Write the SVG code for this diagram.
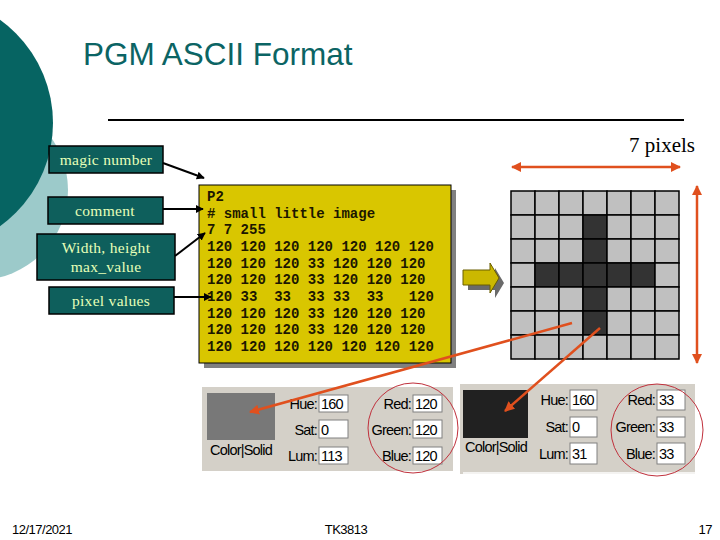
<svg xmlns="http://www.w3.org/2000/svg" width="720" height="540" viewBox="0 0 720 540">
<defs>
<style>
.lbl rect{fill:#0e5f5c;stroke:#000;stroke-width:1.5}
.lbl text{font-family:"Liberation Serif",serif;font-size:15.5px;letter-spacing:0.3px;fill:#e6ffb8;text-anchor:middle}
.code{font-family:"Liberation Mono",monospace;font-weight:bold;font-size:14px;fill:#1c1700}
.ui{font-family:"Liberation Sans",Arial,sans-serif;font-size:14.5px;fill:#000;letter-spacing:-0.8px}
.uir{text-anchor:end}
.box{fill:#fff;stroke:#808080;stroke-width:1}
.lt{fill:#c0c0c0;stroke:#000;stroke-width:1.5}
.dk{fill:#333;stroke:#000;stroke-width:1.5}
.foot{font-family:"Liberation Sans",Arial,sans-serif;font-size:13px;fill:#000;letter-spacing:-0.5px}
</style>
<marker id="ah" viewBox="0 0 10 10" refX="9" refY="5" markerWidth="4" markerHeight="4" orient="auto"><path d="M0,0 L10,5 L0,10 z" fill="#000"/></marker>
<marker id="rh" viewBox="0 0 10 10" refX="9" refY="5" markerWidth="4" markerHeight="4" orient="auto-start-reverse"><path d="M0,0 L10,5 L0,10 z" fill="#e0501e"/></marker>
</defs>
<rect width="720" height="540" fill="#fff"/>
<circle cx="-22" cy="190" r="90" fill="#9ccaca"/>
<circle cx="-74" cy="123" r="127" fill="#066462"/>
<text x="83" y="65" font-family="Liberation Sans,Arial,sans-serif" font-size="31.5" fill="#0b6464">PGM ASCII Format</text>
<line x1="108" y1="120" x2="684" y2="120" stroke="#000" stroke-width="2"/>
<text x="695" y="152" font-family="Liberation Serif,serif" font-size="21" text-anchor="end" fill="#000">7 pixels</text>
<g id="lbl-magic" class="lbl"><rect x="49" y="146" width="114" height="27"/><text x="106" y="165">magic number</text></g>
<g id="lbl-comment" class="lbl"><rect x="48" y="197" width="115" height="27"/><text x="105" y="216">comment</text></g>
<g id="lbl-width" class="lbl"><rect x="37" y="234" width="138" height="46"/><text x="106" y="253">Width, height</text><text x="106" y="272">max_value</text></g>
<g id="lbl-pixels" class="lbl"><rect x="49" y="287" width="125" height="27"/><text x="111" y="306">pixel values</text></g>
<g id="codebox">
<rect x="204" y="190" width="252" height="178" fill="#808080"/>
<rect x="199" y="185" width="252" height="178" fill="#d9c600" stroke="#000" stroke-width="1"/>
<text class="code" xml:space="preserve"><tspan x="207" y="201">P2</tspan><tspan x="207" y="218"># small little image</tspan><tspan x="207" y="234">7 7 255</tspan><tspan x="207" y="251">120 120 120 120 120 120 120</tspan><tspan x="207" y="268">120 120 120 33 120 120 120</tspan><tspan x="207" y="284">120 120 120 33 120 120 120</tspan><tspan x="207" y="301">120 33  33  33 33  33   120</tspan><tspan x="207" y="318">120 120 120 33 120 120 120</tspan><tspan x="207" y="334">120 120 120 33 120 120 120</tspan><tspan x="207" y="351">120 120 120 120 120 120 120</tspan></text>
</g>
<g id="bigarrow">
<path d="M468,275 H495 V268 L504,283 L495,298 V290 H468 Z" fill="#6a6a6a"/>
<path d="M463,270 H490 V263 L499,278 L490,293 V285 H463 Z" fill="#cbb800" stroke="#6b5e00" stroke-width="1"/>
</g>
<g id="grid">
<rect class="lt" x="511" y="191" width="24" height="24"/><rect class="lt" x="535" y="191" width="24" height="24"/><rect class="lt" x="559" y="191" width="24" height="24"/><rect class="lt" x="583" y="191" width="24" height="24"/><rect class="lt" x="607" y="191" width="24" height="24"/><rect class="lt" x="631" y="191" width="24" height="24"/><rect class="lt" x="655" y="191" width="24" height="24"/>
<rect class="lt" x="511" y="215" width="24" height="24"/><rect class="lt" x="535" y="215" width="24" height="24"/><rect class="lt" x="559" y="215" width="24" height="24"/><rect class="dk" x="583" y="215" width="24" height="24"/><rect class="lt" x="607" y="215" width="24" height="24"/><rect class="lt" x="631" y="215" width="24" height="24"/><rect class="lt" x="655" y="215" width="24" height="24"/>
<rect class="lt" x="511" y="239" width="24" height="24"/><rect class="lt" x="535" y="239" width="24" height="24"/><rect class="lt" x="559" y="239" width="24" height="24"/><rect class="dk" x="583" y="239" width="24" height="24"/><rect class="lt" x="607" y="239" width="24" height="24"/><rect class="lt" x="631" y="239" width="24" height="24"/><rect class="lt" x="655" y="239" width="24" height="24"/>
<rect class="lt" x="511" y="263" width="24" height="24"/><rect class="dk" x="535" y="263" width="24" height="24"/><rect class="dk" x="559" y="263" width="24" height="24"/><rect class="dk" x="583" y="263" width="24" height="24"/><rect class="dk" x="607" y="263" width="24" height="24"/><rect class="dk" x="631" y="263" width="24" height="24"/><rect class="lt" x="655" y="263" width="24" height="24"/>
<rect class="lt" x="511" y="287" width="24" height="24"/><rect class="lt" x="535" y="287" width="24" height="24"/><rect class="lt" x="559" y="287" width="24" height="24"/><rect class="dk" x="583" y="287" width="24" height="24"/><rect class="lt" x="607" y="287" width="24" height="24"/><rect class="lt" x="631" y="287" width="24" height="24"/><rect class="lt" x="655" y="287" width="24" height="24"/>
<rect class="lt" x="511" y="311" width="24" height="24"/><rect class="lt" x="535" y="311" width="24" height="24"/><rect class="lt" x="559" y="311" width="24" height="24"/><rect class="dk" x="583" y="311" width="24" height="24"/><rect class="lt" x="607" y="311" width="24" height="24"/><rect class="lt" x="631" y="311" width="24" height="24"/><rect class="lt" x="655" y="311" width="24" height="24"/>
<rect class="lt" x="511" y="335" width="24" height="24"/><rect class="lt" x="535" y="335" width="24" height="24"/><rect class="lt" x="559" y="335" width="24" height="24"/><rect class="lt" x="583" y="335" width="24" height="24"/><rect class="lt" x="607" y="335" width="24" height="24"/><rect class="lt" x="631" y="335" width="24" height="24"/><rect class="lt" x="655" y="335" width="24" height="24"/>
</g>
<g id="panel-left">
<rect x="202" y="387" width="251" height="84" fill="#d4d0c8"/>
<rect x="207" y="393" width="68" height="47" fill="#787878"/>
<text class="ui" x="241" y="455" text-anchor="middle">Color|Solid</text>
<text class="ui uir" x="317" y="409">Hue:</text><rect class="box" x="319" y="395" width="29" height="17"/><text class="ui" x="321" y="409">160</text>
<text class="ui uir" x="317" y="435">Sat:</text><rect class="box" x="319" y="420" width="29" height="18"/><text class="ui" x="321" y="435">0</text>
<text class="ui uir" x="317" y="461">Lum:</text><rect class="box" x="319" y="447" width="29" height="17"/><text class="ui" x="321" y="461">113</text>
<text class="ui uir" x="411" y="409">Red:</text><rect class="box" x="413" y="395" width="29" height="17"/><text class="ui" x="415" y="409">120</text>
<text class="ui uir" x="411" y="435">Green:</text><rect class="box" x="413" y="420" width="29" height="18"/><text class="ui" x="415" y="435">120</text>
<text class="ui uir" x="411" y="461">Blue:</text><rect class="box" x="413" y="447" width="29" height="17"/><text class="ui" x="415" y="461">120</text>
<circle cx="413" cy="428" r="45" fill="none" stroke="#c0303c" stroke-width="1"/>
</g>
<g id="panel-right">
<rect x="460" y="384" width="235" height="90" fill="#d4d0c8"/>
<line x1="463" y1="473" x2="695" y2="473" stroke="#fff" stroke-width="1.5"/>
<rect x="463" y="390" width="65" height="48" fill="#212121"/>
<text class="ui" x="496" y="452" text-anchor="middle">Color|Solid</text>
<text class="ui uir" x="568" y="405">Hue:</text><rect class="box" x="570" y="390" width="27" height="20"/><text class="ui" x="572" y="405">160</text>
<text class="ui uir" x="568" y="432">Sat:</text><rect class="box" x="570" y="417" width="27" height="20"/><text class="ui" x="572" y="432">0</text>
<text class="ui uir" x="568" y="459">Lum:</text><rect class="box" x="570" y="443" width="27" height="21"/><text class="ui" x="572" y="459">31</text>
<text class="ui uir" x="655" y="405">Red:</text><rect class="box" x="657" y="390" width="28" height="20"/><text class="ui" x="659" y="405">33</text>
<text class="ui uir" x="655" y="432">Green:</text><rect class="box" x="657" y="417" width="28" height="20"/><text class="ui" x="659" y="432">33</text>
<text class="ui uir" x="655" y="459">Blue:</text><rect class="box" x="657" y="443" width="28" height="21"/><text class="ui" x="659" y="459">33</text>
<circle cx="657" cy="430" r="46" fill="none" stroke="#c0303c" stroke-width="1"/>
</g>
<g id="connectors" fill="none">
<line x1="163" y1="163" x2="204" y2="178" stroke="#000" stroke-width="2" marker-end="url(#ah)"/>
<line x1="163" y1="209" x2="203" y2="209" stroke="#000" stroke-width="2" marker-end="url(#ah)"/>
<line x1="175" y1="256" x2="205" y2="233" stroke="#000" stroke-width="2" marker-end="url(#ah)"/>
<line x1="174" y1="297" x2="211" y2="297" stroke="#000" stroke-width="2" marker-end="url(#ah)"/>
<line x1="512" y1="167" x2="680" y2="167" stroke="#e0501e" stroke-width="2.5" marker-start="url(#rh)" marker-end="url(#rh)"/>
<line x1="697" y1="186" x2="697" y2="363" stroke="#e0501e" stroke-width="2.5" marker-start="url(#rh)" marker-end="url(#rh)"/>
<line x1="572" y1="323" x2="250" y2="412" stroke="#e0501e" stroke-width="2.5" marker-end="url(#rh)"/>
<line x1="600" y1="328" x2="505" y2="411" stroke="#e0501e" stroke-width="2.5" marker-end="url(#rh)"/>
</g>
<text class="foot" x="12" y="534">12/17/2021</text>
<text class="foot" x="346" y="534" text-anchor="middle">TK3813</text>
<text class="foot" x="712" y="534" text-anchor="end">17</text>
</svg>
